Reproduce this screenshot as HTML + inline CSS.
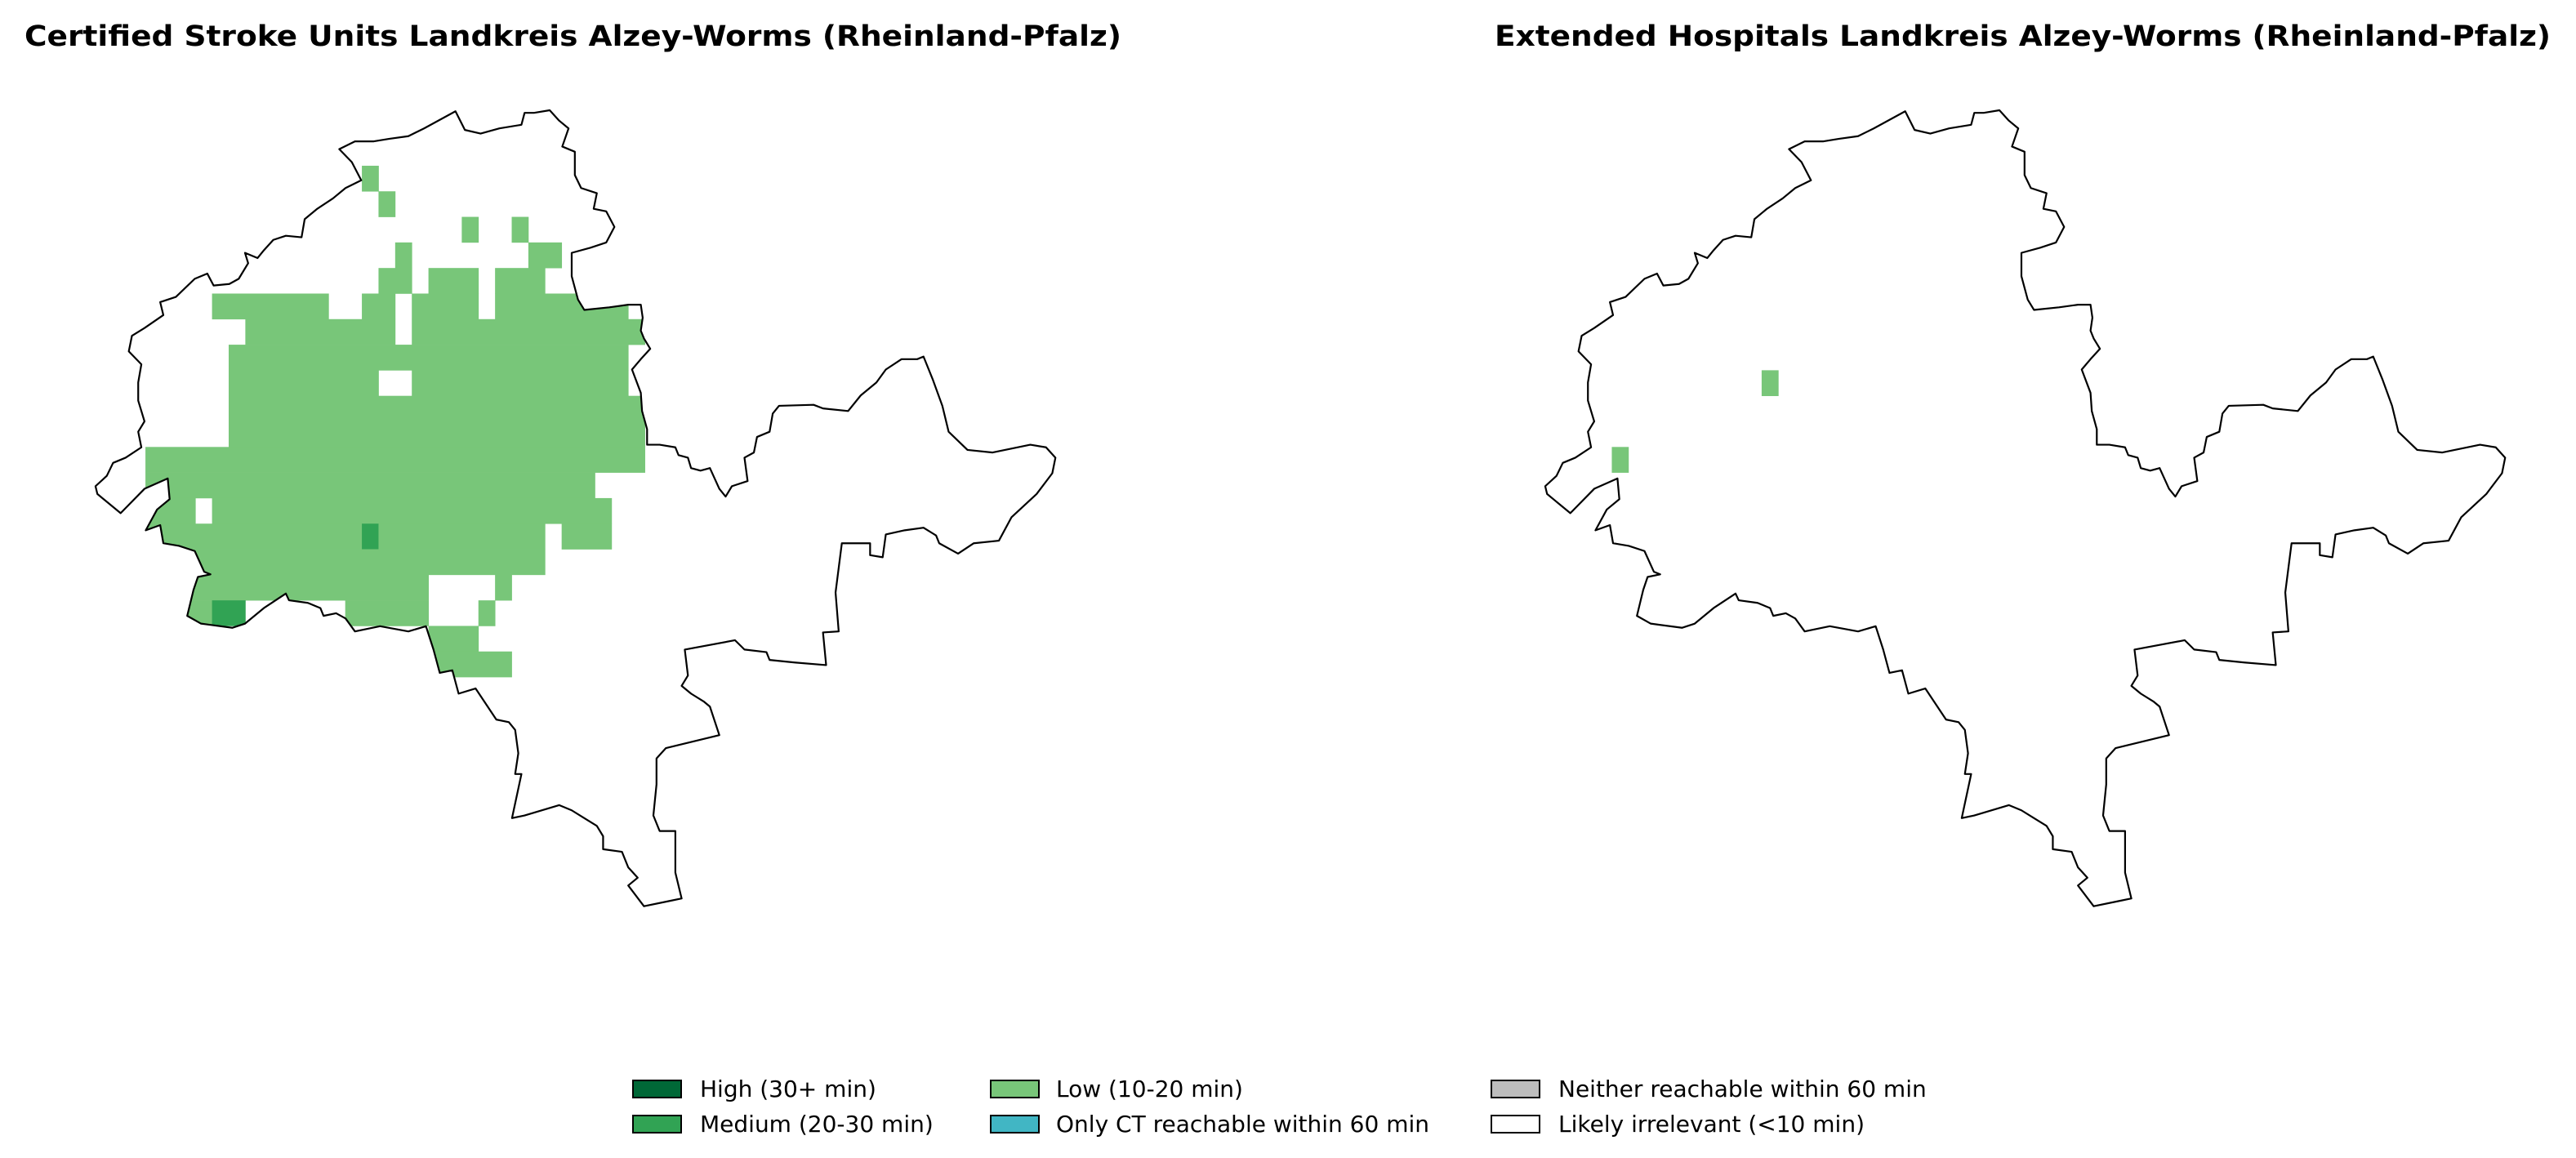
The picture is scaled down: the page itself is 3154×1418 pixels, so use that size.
<!DOCTYPE html>
<html><head><meta charset="utf-8">
<style>
html,body{margin:0;padding:0;background:#fff;}
svg{display:block;}
text{font-family:"DejaVu Sans","Liberation Sans",sans-serif;}
</style></head>
<body>
<svg id="chart" width="3154" height="1418" viewBox="0 0 3154 1418" xmlns="http://www.w3.org/2000/svg">
<text x="30" y="56" font-size="35" font-weight="bold" textLength="1343" lengthAdjust="spacingAndGlyphs">Certified Stroke Units Landkreis Alzey-Worms (Rheinland-Pfalz)</text>
<text x="1830" y="56" font-size="35" font-weight="bold" textLength="1293" lengthAdjust="spacingAndGlyphs">Extended Hospitals Landkreis Alzey-Worms (Rheinland-Pfalz)</text>
<defs>
<clipPath id="clipL"><polygon id="outlineL"/></clipPath>
<clipPath id="clipR"><polygon id="outlineR"/></clipPath>
</defs>
<g id="mapL" transform="translate(100,122.3) scale(0.7692,0.635)">
<g id="cellsL" clip-path="url(#clipL)"></g>
</g>
<g id="mapR" transform="translate(1875,122.3) scale(0.7692,0.635)">
<g id="cellsR" clip-path="url(#clipR)"></g>
</g>
<g id="legend"></g>
</svg>
<script>
const colors = {high:"#006837", medium:"#31a354", low:"#78c679", ct:"#41b6c4", neither:"#bdbdbd", irrelevant:"#ffffff"};
// grid cells: [row, colStart, colEnd, level]
const cellsLeft = [
 [0,12,12,"low"],[1,13,13,"low"],[2,18,18,"low"],[2,21,21,"low"],
 [3,14,14,"low"],[3,22,23,"low"],
 [4,13,14,"low"],[4,16,18,"low"],[4,20,22,"low"],
 [5,3,9,"low"],[5,12,13,"low"],[5,15,18,"low"],[5,20,27,"low"],
 [6,5,13,"low"],[6,15,28,"low"],
 [7,4,27,"low"],
 [8,4,12,"low"],[8,15,27,"low"],
 [9,4,28,"low"],[10,4,28,"low"],[11,-1,28,"low"],[12,-1,25,"low"],
 [13,-1,1,"low"],[13,3,26,"low"],
 [14,-1,11,"low"],[14,12,12,"medium"],[14,13,22,"low"],[14,24,26,"low"],
 [15,-1,22,"low"],
 [16,-1,15,"low"],[16,20,20,"low"],
 [17,-1,2,"low"],[17,3,4,"medium"],[17,11,15,"low"],[17,19,19,"low"],
 [18,16,18,"low"],
 [19,15,20,"low"]
];
const cellsRight = [[8,9,9,"low"],[11,0,0,"low"]];
const legendLabels = ["High (30+ min)","Medium (20-30 min)","Low (10-20 min)","Only CT reachable within 60 min","Neither reachable within 60 min","Likely irrelevant (<10 min)"];
const legendKeys = ["high","medium","low","ct","neither","irrelevant"];
const outline = [[22,745],[25,760],[62,797],[100,750],[137,730],[140,770],[120,790],[102,830],[125,820],[130,855],[155,860],[180,870],[195,910],[205,915],[185,920],[178,945],[168,995],[190,1010],[240,1018],[260,1010],[290,980],[325,952],[330,965],[360,970],[380,980],[385,995],[405,990],[420,1000],[435,1025],[475,1015],[520,1025],[548,1015],[560,1060],[570,1105],[590,1100],[600,1145],[627,1135],[660,1195],[680,1200],[690,1215],[695,1260],[690,1300],[700,1300],[685,1385],[705,1380],[760,1360],[780,1370],[800,1385],[820,1400],[830,1420],[830,1445],[860,1450],[870,1480],[885,1500],[870,1515],[895,1555],[935,1545],[955,1540],[945,1490],[945,1410],[920,1410],[910,1380],[915,1320],[915,1270],[930,1250],[1015,1225],[1000,1170],[990,1160],[970,1145],[955,1130],[965,1110],[960,1060],[1040,1042],[1055,1060],[1090,1065],[1095,1080],[1135,1085],[1185,1090],[1180,1027],[1205,1025],[1200,950],[1210,855],[1255,855],[1255,878],[1275,882],[1280,838],[1310,830],[1340,825],[1360,840],[1365,855],[1395,875],[1420,855],[1460,850],[1480,805],[1520,760],[1545,720],[1550,690],[1535,670],[1510,665],[1450,680],[1410,675],[1380,640],[1370,590],[1355,540],[1340,495],[1330,500],[1305,500],[1280,520],[1265,545],[1240,570],[1220,600],[1180,595],[1165,588],[1110,590],[1100,605],[1095,640],[1075,650],[1070,680],[1055,690],[1060,735],[1035,745],[1025,765],[1015,750],[1000,710],[985,715],[970,710],[965,690],[950,685],[945,670],[920,665],[900,665],[900,635],[892,600],[890,565],[876,520],[890,500],[905,480],[895,460],[890,445],[893,420],[890,395],[870,395],[840,400],[800,405],[790,385],[780,340],[780,295],[810,285],[835,275],[848,245],[835,215],[815,210],[820,180],[795,170],[785,145],[785,100],[765,90],[775,55],[760,40],[745,20],[720,25],[705,25],[700,48],[665,55],[635,65],[610,58],[595,22],[545,55],[520,70],[490,75],[465,80],[435,80],[410,95],[430,120],[445,155],[420,170],[400,190],[375,210],[355,230],[350,265],[325,262],[305,270],[290,290],[280,305],[260,295],[265,315],[250,345],[235,355],[210,358],[200,335],[180,345],[150,380],[125,390],[130,415],[100,440],[80,455],[75,485],[95,510],[90,545],[90,580],[100,620],[90,640],[95,670],[70,690],[50,700],[40,725]];

const NS="http://www.w3.org/2000/svg";
const colX = c => 128 + 26.5*c;
const rowY = r => 127 + 49.3*r;
const pts = outline.map(p=>p.join(",")).join(" ");
document.getElementById("outlineL").setAttribute("points",pts);
document.getElementById("outlineR").setAttribute("points",pts);

function drawCells(gid, cells){
  const g=document.getElementById(gid);
  cells.forEach(c=>{
    const r=document.createElementNS(NS,"rect");
    r.setAttribute("x",colX(c[1]));
    r.setAttribute("y",rowY(c[0]));
    r.setAttribute("width",colX(c[2]+1)-colX(c[1])+0.5);
    r.setAttribute("height",rowY(c[0]+1)-rowY(c[0])+0.5);
    r.setAttribute("fill",colors[c[3]]);
    
    
    g.appendChild(r);
  });
}
drawCells("cellsL",cellsLeft);
drawCells("cellsR",cellsRight);

["mapL","mapR"].forEach(id=>{
  const p=document.createElementNS(NS,"polygon");
  p.setAttribute("points",pts);
  p.setAttribute("fill","none");
  p.setAttribute("stroke","#000");
  p.setAttribute("stroke-width","2.2");
  p.setAttribute("vector-effect","non-scaling-stroke");
  p.setAttribute("stroke-linejoin","round");
  
  
  document.getElementById(id).appendChild(p);
});

const lg=document.getElementById("legend");
const colBox=[775,1213,1826], colTxt=[857,1293,1908], rowTop=[1323,1366];
legendLabels.forEach((lab,i)=>{
  const col=Math.floor(i/2), row=i%2;
  const b=document.createElementNS(NS,"rect");
  b.setAttribute("x",colBox[col]); b.setAttribute("y",rowTop[row]);
  b.setAttribute("width",59); b.setAttribute("height",21);
  b.setAttribute("fill",colors[legendKeys[i]]);
  b.setAttribute("stroke","#000"); b.setAttribute("stroke-width","2");
  
  
  lg.appendChild(b);
  const t=document.createElementNS(NS,"text");
  t.setAttribute("x",colTxt[col]); t.setAttribute("y",rowTop[row]+20);
  t.setAttribute("font-size","28");
  t.textContent=lab;
  
  
  lg.appendChild(t);
});
</script>
</body></html>
